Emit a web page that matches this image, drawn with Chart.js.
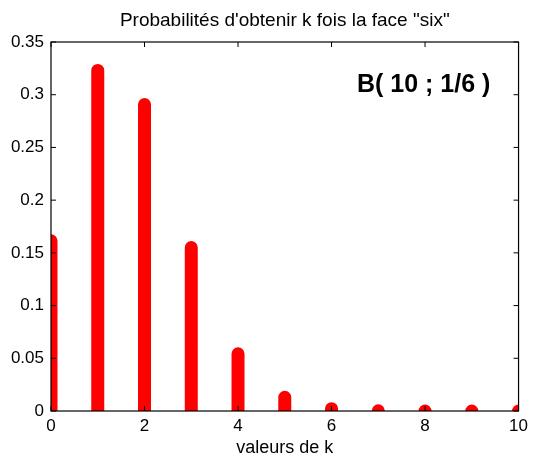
<!DOCTYPE html>
<html>
<head>
<meta charset="utf-8">
<script src="https://cdn.jsdelivr.net/npm/chart.js@4"></script>
<style>
  html, body { margin: 0; padding: 0; background: #fff; }
  #wrap { width: 533px; height: 458px; }
</style>
</head>
<body>
<div id="wrap"><canvas id="binomGraph"></canvas></div>
<script>
// values of k and P(X = k) for B(10 ; 1/6)
const kValues = [0, 1, 2, 3, 4, 5, 6, 7, 8, 9, 10];
const probabilities = [0.1615, 0.3230, 0.2907, 0.1550, 0.0543, 0.0130, 0.0022, 0.00025, 0.00002, 0.000002, 0.0000002];
const xRange = [0, 10];
const yRange = [0, 0.35];
const xStep = 2;
const yStep = 0.05;
const labelText = 'B( 10 ; 1/6 )';
const labelPos = [7.97, 0.309];

const FONT = '"Liberation Sans", Arial, Helvetica, sans-serif';

// each stem is a small segment from 0 to p, separated by a gap
const stems = [];
kValues.forEach((k, i) => {
    stems.push({ x: k, y: 0 });
    stems.push({ x: k, y: probabilities[i] });
    stems.push({ x: k, y: null });
});

// box around the plot with inward ticks, plus the text label
const boxPlugin = {
    id: 'boxPlugin',
    afterDatasetsDraw(chart) {
        const { ctx, chartArea: a, scales } = chart;
        ctx.save();
        ctx.strokeStyle = '#000';
        ctx.lineWidth = 1.2;
        ctx.strokeRect(a.left, a.top, a.right - a.left, a.bottom - a.top);
        ctx.beginPath();
        scales.x.ticks.forEach(t => {
            const px = scales.x.getPixelForValue(t.value);
            ctx.moveTo(px, a.bottom); ctx.lineTo(px, a.bottom - 5);
            ctx.moveTo(px, a.top); ctx.lineTo(px, a.top + 5);
        });
        scales.y.ticks.forEach(t => {
            const py = scales.y.getPixelForValue(t.value);
            ctx.moveTo(a.left, py); ctx.lineTo(a.left + 5, py);
            ctx.moveTo(a.right, py); ctx.lineTo(a.right - 5, py);
        });
        ctx.lineWidth = 1;
        ctx.stroke();

        ctx.fillStyle = '#000';
        ctx.font = 'bold 25px ' + FONT;
        ctx.textAlign = 'center';
        ctx.textBaseline = 'middle';
        ctx.fillText(labelText, scales.x.getPixelForValue(labelPos[0]), scales.y.getPixelForValue(labelPos[1]));
        ctx.restore();
    }
};

const ctx = document.getElementById('binomGraph').getContext('2d');
new Chart(ctx, {
    type: 'scatter',
    data: {
        datasets: [{
            data: stems,
            showLine: true,
            spanGaps: false,
            borderColor: '#ff0000',
            backgroundColor: '#ff0000',
            borderWidth: 13,
            borderCapStyle: 'round',
            pointRadius: 0,
            clip: 0
        }]
    },
    options: {
        responsive: true,
        maintainAspectRatio: false,
        animation: false,
        layout: { padding: { left: 0, right: 11, top: 0, bottom: 0 } },
        plugins: {
            legend: { display: false },
            tooltip: { enabled: false },
            title: {
                display: true,
                fullSize: false,
                text: 'Probabilités d\'obtenir k fois la face "six"',
                color: '#000',
                font: { family: FONT, size: 19, weight: 'normal' },
                padding: { top: 9.5, bottom: 9.7 }
            }
        },
        scales: {
            x: {
                type: 'linear',
                min: xRange[0],
                max: xRange[1],
                grid: { display: false, drawTicks: false },
                border: { display: false },
                ticks: {
                    stepSize: xStep,
                    color: '#000',
                    padding: 5,
                    maxRotation: 0,
                    font: { family: FONT, size: 17 }
                },
                title: {
                    display: true,
                    text: 'valeurs de k',
                    color: '#000',
                    font: { family: FONT, size: 18 },
                    padding: { top: 0, bottom: -1 }
                },
                afterFit(scale) { scale.height = 47; }
            },
            y: {
                min: yRange[0],
                max: yRange[1],
                grid: { display: false, drawTicks: false },
                border: { display: false },
                ticks: {
                    stepSize: yStep,
                    color: '#000',
                    padding: 7,
                    font: { family: FONT, size: 17 },
                    callback: v => String(+v.toFixed(2))
                },
                afterFit(scale) { scale.width = 51; }
            }
        }
    },
    plugins: [boxPlugin]
});
</script>
</body>
</html>
